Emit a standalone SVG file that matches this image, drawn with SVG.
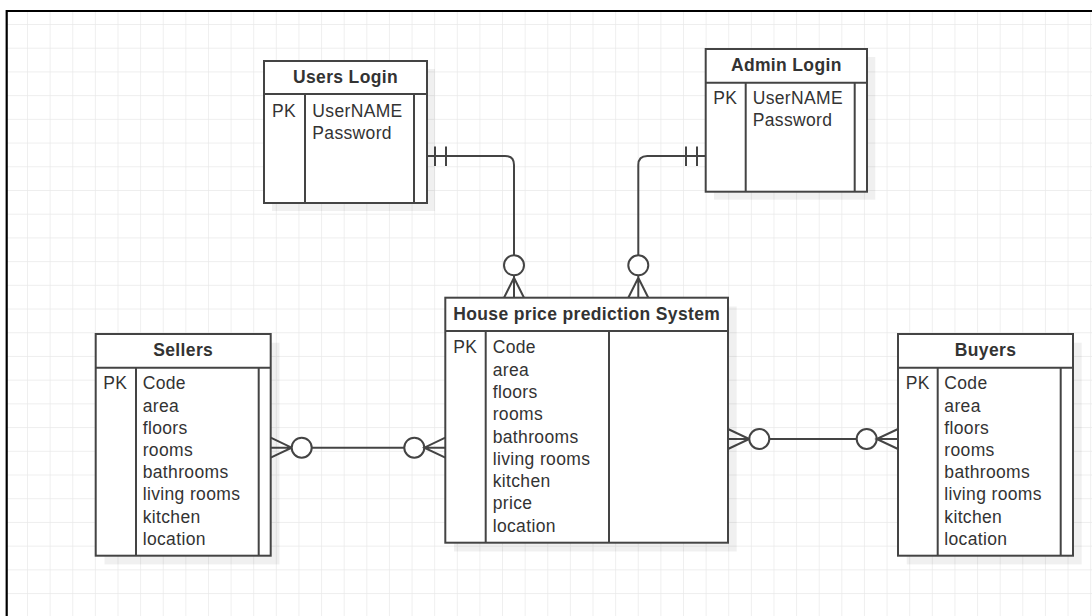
<svg xmlns="http://www.w3.org/2000/svg" width="1092" height="616" viewBox="0 0 1092 616">
<defs>
<pattern id="grid" x="5.38" y="1.29" width="22.62" height="23.71" patternUnits="userSpaceOnUse">
<path d="M22.62,0 V23.71 M0,23.71 H22.62" fill="none" stroke="#e9e9e9" stroke-width="1.4"/>
</pattern>
<style>
.box{fill:#fff;stroke:#444;stroke-width:2}
.sh{fill:#000;opacity:0.06}
.ln{stroke:#444;stroke-width:2;fill:none}
.t{font-family:"Liberation Sans",Arial,Helvetica,sans-serif;font-size:17.5px;letter-spacing:0.35px;fill:#333}
.h{font-weight:bold;text-anchor:middle}
.c{fill:#fff;stroke:#444;stroke-width:2}
</style>
</defs>
<rect x="0" y="0" width="1092" height="616" fill="#fff"/>
<rect x="7" y="11" width="1085" height="605" fill="url(#grid)"/>
<path d="M6.7,616 V11 H1092" fill="none" stroke="#000" stroke-width="2.2"/>

<g id="connectors">
<path class="ln" d="M427,156 H505 Q514,156 514,165 V255.3"/>
<path class="ln" d="M435,146.5 V166 M446,146.5 V166"/>
<path class="ln" d="M504,297.7 L514,277.7 L524,297.7 M514,275.3 V297.7"/>
<circle class="c" cx="514" cy="265.3" r="10"/>

<path class="ln" d="M705.7,156 H647.3 Q638.3,156 638.3,165 V255.3"/>
<path class="ln" d="M686,146.5 V166 M697,146.5 V166"/>
<path class="ln" d="M628.3,297.7 L638.3,277.7 L648.3,297.7 M638.3,275.3 V297.7"/>
<circle class="c" cx="638.3" cy="265.3" r="10"/>

<path class="ln" d="M270.7,437.7 L291.7,447.7 L270.7,457.7 M270.7,447.7 H291.7"/>
<path class="ln" d="M311.7,447.7 H404.3"/>
<circle class="c" cx="301.7" cy="447.7" r="10"/>
<circle class="c" cx="414.3" cy="447.7" r="10"/>
<path class="ln" d="M445.3,437.7 L424.3,447.7 L445.3,457.7 M424.3,447.7 H445.3"/>

<path class="ln" d="M728,429 L749.3,439 L728,449 M728,439 H749.3"/>
<path class="ln" d="M769.3,439 H856.7"/>
<circle class="c" cx="759.3" cy="439" r="10"/>
<circle class="c" cx="866.7" cy="439" r="10"/>
<path class="ln" d="M898,429 L876.7,439 L898,449 M876.7,439 H898"/>
</g>

<g id="users-login">
<rect class="sh" x="272" y="69" width="163" height="142"/>
<rect class="box" x="264" y="61" width="163" height="142"/>
<path class="ln" d="M264,94 H427 M305,94 V203 M414,94 V203"/>
<text class="t h" x="345.5" y="83.3">Users Login</text>
<text class="t" x="272" y="116.7">PK</text>
<text class="t" x="312.3" y="116.7">UserNAME</text>
<text class="t" x="312.3" y="138.5">Password</text>
</g>

<g id="admin-login">
<rect class="sh" x="714" y="57" width="161.3" height="142.7"/>
<rect class="box" x="705.7" y="49" width="161.3" height="142.7"/>
<path class="ln" d="M705.7,82.7 H867 M745.7,82.7 V191.7 M854.7,82.7 V191.7"/>
<text class="t h" x="786.3" y="70.7">Admin Login</text>
<text class="t" x="713.3" y="104.3">PK</text>
<text class="t" x="752.7" y="104.3">UserNAME</text>
<text class="t" x="752.7" y="126">Password</text>
</g>

<g id="house-price-prediction-system">
<rect class="sh" x="454" y="306.5" width="282.7" height="245"/>
<rect class="box" x="445.3" y="297.7" width="282.7" height="245"/>
<path class="ln" d="M445.3,331 H728 M485.7,331 V542.7 M609,331 V542.7"/>
<text class="t h" x="586.7" y="320">House price prediction System</text>
<text class="t" x="453.3" y="353.3">PK</text>
<text class="t" x="492.7" y="353.3">Code</text>
<text class="t" x="492.7" y="375.6">area</text>
<text class="t" x="492.7" y="397.9">floors</text>
<text class="t" x="492.7" y="420.2">rooms</text>
<text class="t" x="492.7" y="442.5">bathrooms</text>
<text class="t" x="492.7" y="464.8">living rooms</text>
<text class="t" x="492.7" y="487.1">kitchen</text>
<text class="t" x="492.7" y="509.4">price</text>
<text class="t" x="492.7" y="531.7">location</text>
</g>

<g id="sellers">
<rect class="sh" x="104.5" y="342.7" width="175" height="221.7"/>
<rect class="box" x="95.7" y="334" width="175" height="221.7"/>
<path class="ln" d="M95.7,367.7 H270.7 M136,367.7 V555.7 M258.7,367.7 V555.7"/>
<text class="t h" x="183.2" y="355.7">Sellers</text>
<text class="t" x="103.3" y="389.3">PK</text>
<text class="t" x="142.7" y="389.3">Code</text>
<text class="t" x="142.7" y="411.5">area</text>
<text class="t" x="142.7" y="433.7">floors</text>
<text class="t" x="142.7" y="455.9">rooms</text>
<text class="t" x="142.7" y="478.1">bathrooms</text>
<text class="t" x="142.7" y="500.3">living rooms</text>
<text class="t" x="142.7" y="522.5">kitchen</text>
<text class="t" x="142.7" y="544.7">location</text>
</g>

<g id="buyers">
<rect class="sh" x="906.7" y="342.7" width="175" height="221.7"/>
<rect class="box" x="898" y="334" width="175" height="221.7"/>
<path class="ln" d="M898,367.7 H1073 M937.7,367.7 V555.7 M1060.7,367.7 V555.7"/>
<text class="t h" x="985.5" y="355.7">Buyers</text>
<text class="t" x="905.7" y="389.3">PK</text>
<text class="t" x="944.3" y="389.3">Code</text>
<text class="t" x="944.3" y="411.5">area</text>
<text class="t" x="944.3" y="433.7">floors</text>
<text class="t" x="944.3" y="455.9">rooms</text>
<text class="t" x="944.3" y="478.1">bathrooms</text>
<text class="t" x="944.3" y="500.3">living rooms</text>
<text class="t" x="944.3" y="522.5">kitchen</text>
<text class="t" x="944.3" y="544.7">location</text>
</g>
</svg>
